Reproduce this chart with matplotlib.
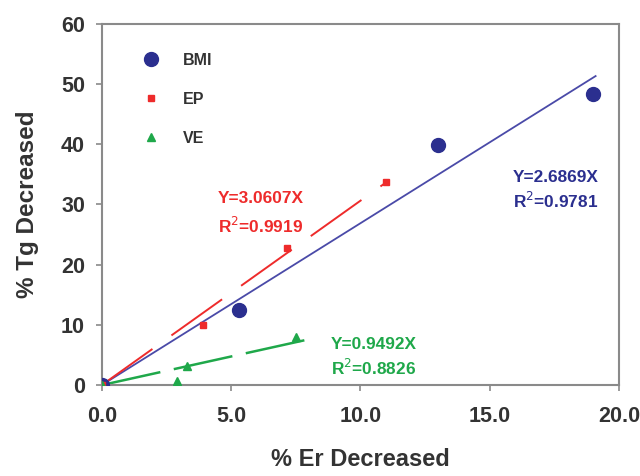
import matplotlib
matplotlib.use("Agg")
import matplotlib.pyplot as plt
import numpy as np

plt.rcParams['font.family'] = ['Liberation Sans', 'DejaVu Sans']

# data
bmi_x = [0.0, 5.3, 13.0, 19.0]
bmi_y = [0.0, 12.4, 39.8, 48.3]
ep_x = [0.0, 3.9, 7.15, 11.0]
ep_y = [0.0, 9.9, 22.8, 33.7]
ve_x = [0.0, 2.9, 3.3, 7.5]
ve_y = [0.0, 0.6, 3.2, 8.0]

bmi_slope, bmi_r2 = 2.6869, 0.9781
ep_slope, ep_r2 = 3.0607, 0.9919
ve_slope, ve_r2 = 0.9492, 0.8826
bmi_fit_end = 19.1
ep_fit_end = 11.0
ve_fit_end = 8.05

xticks = [0, 5, 10, 15, 20]
xticklabels = ['0.0', '5.0', '10.0', '15.0', '20.0']
yticks = [0, 10, 20, 30, 40, 50, 60]

c_bmi = '#2b2f8f'
c_bmi_line = '#4a4aa8'
c_ep = '#ee2b2b'
c_ve = '#1fa84a'

fig = plt.figure(figsize=(6.4, 4.76), dpi=100)
ax = fig.add_axes([0.159, 0.191, 0.808, 0.759])

# fit lines
xs = np.array([0, bmi_fit_end])
ax.plot(xs, bmi_slope * xs, color=c_bmi_line, lw=1.3, zorder=2)
xs = np.array([0, ep_fit_end])
ax.plot(xs, ep_slope * xs, color=c_ep, lw=1.4, dashes=(32, 12), zorder=2)
xs = np.array([0, ve_fit_end])
ax.plot(xs, ve_slope * xs, color=c_ve, lw=1.8, dashes=(24, 5.5), zorder=2)

# points
ax.plot(bmi_x, bmi_y, 'o', color=c_bmi, ms=10, ls='none', label='BMI', zorder=3)
ax.plot(ep_x, ep_y, 's', color=c_ep, ms=5, ls='none', label='EP', zorder=4)
ax.plot(ve_x, ve_y, '^', color=c_ve, ms=6, ls='none', label='VE', zorder=5)

ax.set_xlim(0, 20)
ax.set_ylim(0, 60)
ax.set_xticks(xticks)
ax.set_xticklabels(xticklabels)
ax.set_yticks(yticks)

for s in ax.spines.values():
    s.set_color('#8a8a8a')
    s.set_linewidth(1.5)
ax.tick_params(direction='out', length=4, width=1.2, color='#8a8a8a',
               labelsize=15.5, labelcolor='#333333', pad=6)
for lab in ax.get_xticklabels() + ax.get_yticklabels():
    lab.set_fontweight('bold')
ax.tick_params(axis='x', pad=11)
ax.tick_params(axis='y', pad=8)

ax.set_xlabel('% Er Decreased', fontsize=17, fontweight='bold', color='#333333', labelpad=15)
ax.set_ylabel('% Tg Decreased', fontsize=17.5, fontweight='bold', color='#333333', labelpad=16)

leg = ax.legend(loc='upper left', bbox_to_anchor=(0.036, 0.96), frameon=False,
                labelspacing=1.5, handletextpad=1.0, fontsize=11.5,
                markerscale=1.0)
for t in leg.get_texts():
    t.set_fontweight('bold')
    t.set_color('#333333')

fs = 12.4
ax.text(4.5, 31.0, 'Y=3.0607X', color=c_ep, fontsize=fs, fontweight='bold', va='center')
ax.text(4.5, 26.5, 'R$^2$=0.9919', color=c_ep, fontsize=fs, fontweight='bold', va='center')
ax.text(15.9, 34.5, 'Y=2.6869X', color=c_bmi, fontsize=fs, fontweight='bold', va='center')
ax.text(15.9, 30.6, 'R$^2$=0.9781', color=c_bmi, fontsize=fs, fontweight='bold', va='center')
ax.text(8.85, 6.8, 'Y=0.9492X', color=c_ve, fontsize=fs, fontweight='bold', va='center')
ax.text(8.85, 2.8, 'R$^2$=0.8826', color=c_ve, fontsize=fs, fontweight='bold', va='center')

fig.savefig('out.png', dpi=100)
